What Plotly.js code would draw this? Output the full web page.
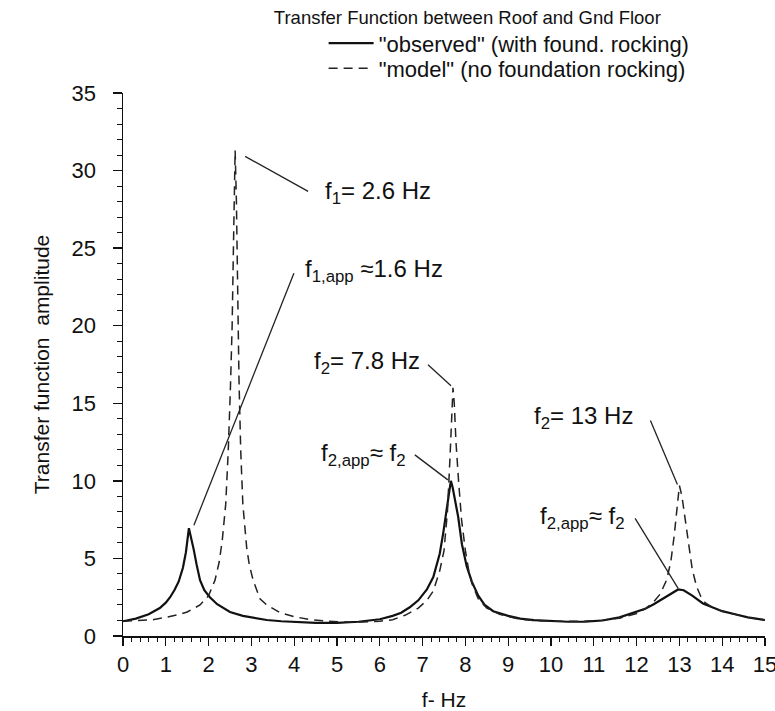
<!DOCTYPE html>
<html>
<head>
<meta charset="utf-8">
<script src="https://cdn.plot.ly/plotly-3.0.1.min.js"></script>
<style>
  html, body { margin: 0; padding: 0; background: #fff; }
  #chart { width: 775px; height: 711px; }
</style>
</head>
<body>
<div id="chart"></div>
<script>
// ---- data ----
const freqObserved = [0, 0.3, 0.6, 0.86, 1.0, 1.1, 1.2, 1.3, 1.4, 1.47, 1.54, 1.6, 1.65, 1.72, 1.8, 1.9, 2.03, 2.2, 2.5, 2.8, 3.0, 3.36, 3.7, 4.0, 4.5, 5.0, 5.5, 6.0, 6.3, 6.5, 6.7, 6.9, 7.1, 7.25, 7.4, 7.48, 7.55, 7.62, 7.66, 7.7, 7.76, 7.83, 7.92, 8.03, 8.15, 8.3, 8.45, 8.65, 9.0, 9.28, 9.6, 10.0, 10.4, 10.8, 11.2, 11.6, 11.96, 12.2, 12.4, 12.6, 12.8, 12.97, 13.1, 13.3, 13.55, 13.8, 14.0, 14.3, 14.6, 15.0];
const ampObserved  = [0.95, 1.12, 1.4, 1.8, 2.15, 2.5, 2.95, 3.5, 4.4, 5.4, 6.95, 6.3, 5.6, 4.6, 3.6, 2.95, 2.5, 2.05, 1.55, 1.3, 1.2, 1.03, 0.95, 0.9, 0.85, 0.85, 0.92, 1.08, 1.3, 1.5, 1.85, 2.3, 3.0, 3.8, 5.3, 6.6, 8.0, 9.5, 10.0, 9.6, 8.8, 7.7, 5.9, 4.5, 3.5, 2.6, 2.0, 1.6, 1.3, 1.12, 1.02, 0.95, 0.92, 0.93, 1.0, 1.2, 1.5, 1.75, 2.05, 2.4, 2.75, 3.0, 2.95, 2.6, 2.1, 1.8, 1.6, 1.4, 1.2, 1.03];

const freqModel = [0, 0.4, 0.7, 1.0, 1.3, 1.5, 1.8, 2.0, 2.15, 2.25, 2.32, 2.4, 2.46, 2.51, 2.55, 2.58, 2.62, 2.65, 2.68, 2.71, 2.75, 2.8, 2.89, 2.95, 3.04, 3.2, 3.36, 3.67, 4.0, 4.37, 4.8, 5.2, 5.6, 6.0, 6.3, 6.6, 6.9, 7.1, 7.25, 7.4, 7.5, 7.58, 7.64, 7.68, 7.71, 7.74, 7.78, 7.84, 7.91, 8.0, 8.08, 8.15, 8.3, 8.5, 8.8, 9.2, 9.6, 10.0, 10.4, 10.8, 11.2, 11.6, 12.0, 12.2, 12.4, 12.55, 12.7, 12.8, 12.88, 12.95, 13.0, 13.06, 13.13, 13.2, 13.3, 13.4, 13.5, 13.6, 13.8, 14.0, 14.3, 14.6, 15.0];
const ampModel  = [0.95, 1.0, 1.05, 1.2, 1.38, 1.55, 2.0, 2.6, 3.6, 4.8, 6.2, 8.5, 12, 16, 20, 25, 31.3, 28, 22, 16.5, 12, 8.5, 5.7, 4.6, 3.6, 2.4, 2.0, 1.5, 1.25, 1.05, 0.95, 0.9, 0.9, 0.95, 1.05, 1.35, 1.8, 2.3, 2.9, 4.2, 5.5, 8.0, 11.5, 14.5, 16.0, 15, 12.5, 10, 7.5, 5.5, 4.2, 3.4, 2.4, 1.8, 1.4, 1.12, 1.0, 0.95, 0.93, 0.95, 1.02, 1.15, 1.45, 1.75, 2.2, 2.7, 3.6, 4.8, 6.5, 8.5, 9.7, 9.0, 7.6, 6.0, 4.3, 3.2, 2.55, 2.15, 1.8, 1.6, 1.4, 1.2, 1.03];

const seriesNames = ['"observed" (with found. rocking)', '"model" (no foundation rocking)'];
const xTickVals = [0,1,2,3,4,5,6,7,8,9,10,11,12,13,14,15];
const yTickVals = [0,5,10,15,20,25,30,35];

// peak labels: [series, window lo, window hi, text, text anchor, text dx, text dy, line x0,y0,x1,y1 (px offsets from peak)]
const peakLabels = [
  ['model',    2, 3.5,  'f<sub>1</sub>= 2.6 Hz',          'left',  88, -42, 10, -6, 73, -41],
  ['observed', 1, 2.5,  'f<sub>1,app</sub> ≈1.6 Hz',      'left', 114, 258,  5,  3, 105, 255],
  ['model',    7, 8.5,  'f<sub>2</sub>= 7.8 Hz',          'right', -31, 25, -25, 23, -2, 2],
  ['observed', 7, 8.5,  'f<sub>2,app</sub>≈ f<sub>2</sub>', 'right', -43, 26, -36, 26, -3, 1],
  ['model',   12, 14,   'f<sub>2</sub>= 13 Hz',           'right', -44, 68, -29, 65, -2, 1],
  ['observed',12, 14,   'f<sub>2,app</sub>≈ f<sub>2</sub>', 'right', -51, 72, -43, 71, 0, 1]
];

function peakIn(fs, as, lo, hi) {
  let best = null;
  for (let i = 0; i < fs.length; i++) {
    if (fs[i] >= lo && fs[i] <= hi && (best === null || as[i] > as[best])) best = i;
  }
  return [fs[best], as[best]];
}

const FONT = 'Liberation Sans, Arial, Helvetica, sans-serif';

const traces = [
  { x: freqObserved, y: ampObserved, name: seriesNames[0], type: 'scatter', mode: 'lines',
    legend: 'legend', line: { color: '#111', width: 2.2 } },
  { x: freqModel, y: ampModel, name: seriesNames[1], type: 'scatter', mode: 'lines',
    legend: 'legend2', line: { color: '#222', width: 1.5, dash: '9px,6px' } }
];

const annotations = [];
const shapes = [];
peakLabels.forEach(p => {
  const pk = p[0] === 'model' ? peakIn(freqModel, ampModel, p[1], p[2]) : peakIn(freqObserved, ampObserved, p[1], p[2]);
  annotations.push({
    x: pk[0], y: pk[1], xref: 'x', yref: 'y', text: p[3], showarrow: false,
    xanchor: p[4], yanchor: 'middle', xshift: p[5], yshift: p[6],
    font: { family: FONT, size: 24, color: '#111' }
  });
  shapes.push({
    type: 'line', xref: 'x', yref: 'y', xsizemode: 'pixel', ysizemode: 'pixel',
    xanchor: pk[0], yanchor: pk[1], x0: p[7], y0: p[8], x1: p[9], y1: p[10],
    line: { color: '#222', width: 1.3 }
  });
});

const legendBase = {
  x: 0.3125, xanchor: 'left', yanchor: 'top',
  font: { family: FONT, size: 22, color: '#111' },
  bgcolor: 'rgba(0,0,0,0)', itemwidth: 45
};

const layout = {
  width: 775, height: 711,
  margin: { l: 123, r: 10, t: 93, b: 75 },
  paper_bgcolor: '#fff', plot_bgcolor: '#fff',
  font: { family: FONT, color: '#111' },
  title: { text: 'Transfer Function between Roof and Gnd Floor',
    x: 0.603, xref: 'container', xanchor: 'center',
    y: 0.975, yref: 'container', yanchor: 'middle',
    font: { family: FONT, size: 18.5, color: '#111' } },
  showlegend: true,
  legend: Object.assign({ y: 1.13 }, legendBase),
  legend2: Object.assign({ y: 1.084 }, legendBase),
  xaxis: {
    range: [0, 15], tickvals: xTickVals, ticktext: xTickVals.map(String),
    showline: true, linecolor: '#111', linewidth: 1.5, showgrid: false, zeroline: false,
    ticks: 'outside', ticklen: 8, tickwidth: 1.3, tickcolor: '#111',
    minor: { dtick: 0.2, ticks: 'outside', ticklen: 4, tickwidth: 1, tickcolor: '#111', showgrid: false },
    tickfont: { family: FONT, size: 22, color: '#111' },
    ticklabeloverflow: 'allow',
    title: { text: 'f- Hz', font: { family: FONT, size: 21, color: '#111' }, standoff: 18 },
    fixedrange: true
  },
  yaxis: {
    range: [0, 35], tickvals: yTickVals, ticktext: yTickVals.map(String),
    showline: true, linecolor: '#111', linewidth: 1.5, showgrid: false, zeroline: false,
    ticks: 'outside', ticklen: 9, tickwidth: 1.3, tickcolor: '#111',
    minor: { dtick: 1, ticks: 'outside', ticklen: 5, tickwidth: 1, tickcolor: '#111', showgrid: false },
    tickfont: { family: FONT, size: 22, color: '#111' },
    ticklabelstandoff: 12,
    title: { text: 'Transfer function  amplitude', font: { family: FONT, size: 21, color: '#111' }, standoff: 16 },
    fixedrange: true
  },
  annotations: annotations,
  shapes: shapes
};

Plotly.newPlot('chart', traces, layout, { displayModeBar: false, staticPlot: true });
</script>
</body>
</html>
